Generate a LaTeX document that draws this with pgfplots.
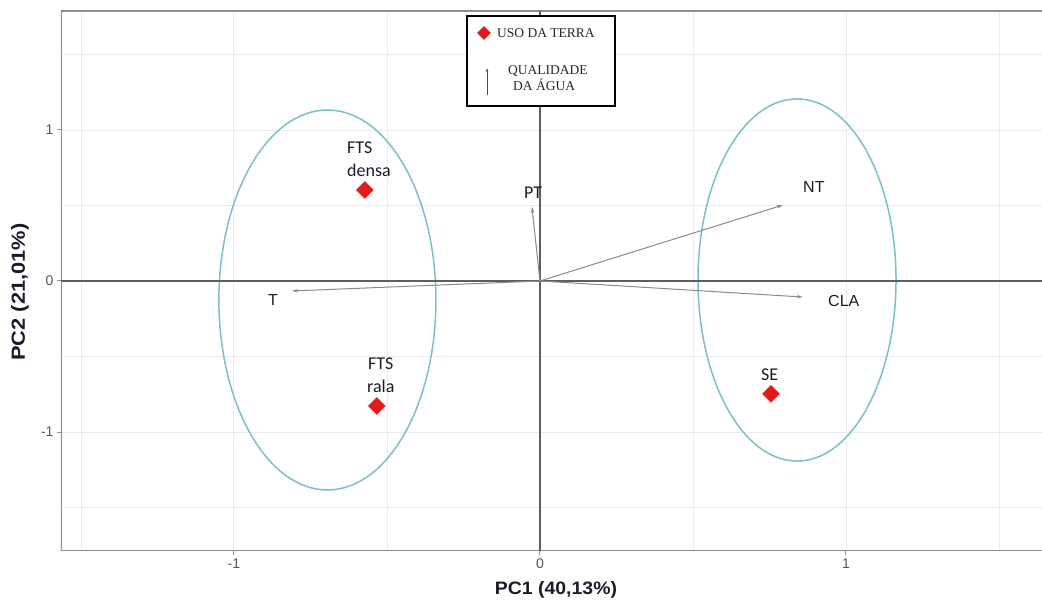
\documentclass[border=0pt]{standalone}
\usepackage{graphicx}
\usepackage{pgfplots}
\pgfplotsset{compat=1.18}
\usepackage{pgfplotstable}
\usepackage{fontspec}
\setmainfont{Liberation Sans}
\newfontfamily\calibri{Carlito}
\newfontfamily\timesf{Liberation Serif}
\usetikzlibrary{arrows.meta,shapes.geometric}
\definecolor{gridc}{HTML}{EBEBEB}
\definecolor{framec}{HTML}{8F8F8F}
\definecolor{zeroc}{HTML}{5E5E5E}
\definecolor{arrc}{HTML}{8A8A8A}
\definecolor{ellc}{HTML}{7DBFC7}
\definecolor{ptc}{HTML}{E31A1C}
\definecolor{tickc}{HTML}{555555}
\definecolor{txtc}{HTML}{1A1A2A}

\pgfplotstableread{
x y
-0.572 0.603
-0.533 -0.828
0.755 -0.748
}\usoterra

\begin{document}
\begin{tikzpicture}
\begin{axis}[
 scale only axis, width=981pt, height=540pt,
 xmin=-1.565, xmax=1.6405, ymin=-1.788, ymax=1.788,
 xtick={-1,0,1}, xticklabels={-1,0,1},
 ytick={-1,0,1}, yticklabels={-1,0,1},
 minor xtick={-1.5,-0.5,0.5,1.5}, minor ytick={-1.5,-0.5,0.5,1.5},
 grid=both,
 major grid style={draw=gridc, line width=0.9pt},
 minor grid style={draw=gridc, line width=0.7pt},
 axis line style={draw=none},
 tick pos=left,
 tick align=outside, major tick length=4pt, minor tick length=0pt,
 tick style={draw=framec, line width=1pt},
 ticklabel style={font=\fontsize{14}{14}\selectfont, text=tickc},
]
% frame (left, top, bottom)
\draw[framec, line width=1.6pt] (axis cs:1.6405,1.788) -- (axis cs:-1.565,1.788) -- (axis cs:-1.565,-1.788) -- (axis cs:1.6405,-1.788);
% ellipses
\draw[ellc, line width=1.5pt] (axis cs:-0.6944,-0.1258) ellipse [x radius=0.3546, y radius=1.258];
\draw[ellc, line width=1.5pt] (axis cs:0.840,0.0066) ellipse [x radius=0.3235, y radius=1.199];
% zero lines
\draw[zeroc, line width=1.5pt] (axis cs:-1.565,0) -- (axis cs:1.6405,0);
\draw[zeroc, line width=1.5pt] (axis cs:0,-1.788) -- (axis cs:0,1.788);
% water quality vectors
\addplot[arrc, line width=1pt, -{Stealth[length=6pt,width=3.5pt]}] coordinates {(0,0) (-0.026,0.49)};
\addplot[arrc, line width=1pt, -{Stealth[length=6pt,width=3.5pt]}] coordinates {(0,0) (0.794,0.503)};
\addplot[arrc, line width=1pt, -{Stealth[length=6pt,width=3.5pt]}] coordinates {(0,0) (0.859,-0.106)};
\addplot[arrc, line width=1pt, -{Stealth[length=6pt,width=3.5pt]}] coordinates {(0,0) (-0.81,-0.066)};
% land use points
\addplot[only marks, mark=square*, mark size=6pt, mark options={rotate=45, fill=ptc, draw=ptc}] table {\usoterra};
\end{axis}
% labels
\begin{scope}[every node/.style={inner sep=0pt, text=txtc}]
\node[anchor=base west, font=\calibri\fontsize{18}{18}\selectfont] at (286pt,397pt) {FTS};
\node[anchor=base west, font=\calibri\fontsize{18}{18}\selectfont] at (286pt,374pt) {densa};
\node[anchor=base west, font=\calibri\fontsize{18}{18}\selectfont] at (307pt,181pt) {FTS};
\node[anchor=base west, font=\calibri\fontsize{18}{18}\selectfont] at (306pt,158pt) {rala};
\node[anchor=base west, font=\calibri\fontsize{18}{18}\selectfont] at (700pt,170pt) {SE};
\node[anchor=base west, font=\calibri\fontsize{18}{18}\selectfont] at (463pt,352pt) {PT};
\node[anchor=base west, font=\fontsize{16}{16}\selectfont] at (742pt,358pt) {NT};
\node[anchor=base west, font=\fontsize{16}{16}\selectfont] at (767pt,244pt) {CLA};
\node[anchor=base west, font=\fontsize{16}{16}\selectfont] at (207pt,245pt) {T};
\end{scope}
% axis titles
\node[font=\bfseries\fontsize{18}{18}\selectfont, text=txtc] at (495pt,-39pt) {\scalebox{1.08}[1]{PC1 (40,13\%)}};
\node[rotate=90, font=\bfseries\fontsize{19}{19}\selectfont, text=txtc] at (-41pt,259pt) {\scalebox{1.15}[1]{PC2 (21,01\%)}};
% legend box
\draw[black, line width=2.5pt, fill=white] (406pt,445pt) rectangle (554pt,535pt);
\node[diamond, aspect=1, fill=ptc, inner sep=0pt, minimum size=14pt] at (423pt,518pt) {};
\node[anchor=base west, inner sep=0pt, font=\timesf\fontsize{13.5}{13.5}\selectfont, text=black!85] at (436pt,513pt) {USO DA TERRA};
\node[anchor=base west, inner sep=0pt, font=\timesf\fontsize{13.5}{13.5}\selectfont, text=black!85] at (447pt,476pt) {QUALIDADE};
\node[anchor=base west, inner sep=0pt, font=\timesf\fontsize{13.5}{13.5}\selectfont, text=black!85] at (452pt,460pt) {DA ÁGUA};
\draw[black!70, line width=0.7pt, -{Stealth[length=4pt,width=2.5pt]}] (426pt,456pt) -- (426pt,483pt);
\pgfresetboundingbox
\useasboundingbox (-61pt,-49pt) rectangle (981pt,551pt);
\end{tikzpicture}
\end{document}
